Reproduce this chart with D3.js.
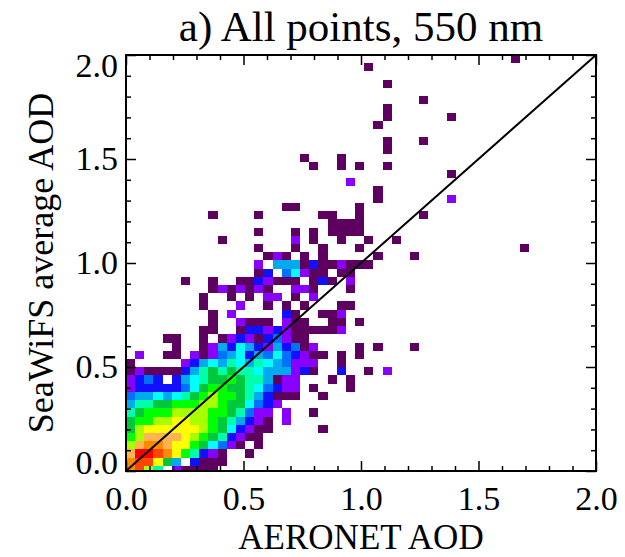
<!DOCTYPE html>
<html>
<head>
<meta charset="utf-8">
<script src="https://d3js.org/d3.v7.min.js"></script>
<style>
  body { margin: 0; background: #fff; }
  svg text { font-family: "Liberation Serif", Tinos, "DejaVu Serif", serif; fill: #000; }
</style>
</head>
<body>
<svg id="chart" width="625" height="557"></svg>
<script>
var title = "a) All points, 550 nm";
var xTitle = "AERONET AOD";
var yTitle = "SeaWiFS average AOD";
var majorTicks = [0, 0.5, 1.0, 1.5, 2.0];
var minorTicks = [0.1, 0.2, 0.3, 0.4, 0.6, 0.7, 0.8, 0.9, 1.1, 1.2, 1.3, 1.4, 1.6, 1.7, 1.8, 1.9];
var oneToOne = [0, 2];

// bin size (AOD) of the 2-D histogram
var binW = 0.039, binH = 0.0395;

// colour of each count level, 1 = few points ... f = most points
var levelColors = ["#5e0060", "#8a00ff", "#1010ff", "#0070ff", "#00aaee", "#00ffff", "#00ffaa",
                   "#00c83c", "#00ff00", "#a8ff00", "#ffff00", "#ffb450", "#ff8a00", "#ff4400", "#ff0000"];

// occupied bins: [row from the top (AOD 2.0), first column, levels of consecutive columns]
var bins = [
  [0, 42, "1"],
  [1, 26, "1"],
  [3, 28, "1"],
  [5, 32, "1"],
  [6, 28, "1"],
  [7, 28, "1......1"],
  [8, 27, "1"],
  [10, 28, "1...1"],
  [11, 28, "1"],
  [12, 19, "1...1"],
  [13, 20, "1..1.1..1"],
  [14, 35, "1"],
  [15, 24, "2"],
  [16, 27, "1"],
  [17, 27, "1.......2"],
  [18, 17, "11......1"],
  [19, 9, "1....1......11..1......1"],
  [20, 22, "1111"],
  [21, 14, "1...1.1.1111"],
  [22, 10, "1.......2.1..1..1..1"],
  [23, 14, "1...1..1...1"],
  [23, 43, "1"],
  [24, 15, "121.1.1.....1...1"],
  [25, 14, "2.55513112111"],
  [26, 14, "13.46211.11"],
  [27, 6, "1..1..1132111.131.2"],
  [28, 9, "1212121..221...1"],
  [29, 8, "1..1.1.22.1.2"],
  [30, 8, "1...2..1.1.1...11"],
  [31, 9, "1.2.....31..112"],
  [32, 9, "1..2111.211..11.1"],
  [33, 8, "11..133232111112"],
  [34, 4, "11..1.1232134211"],
  [35, 5, "1..1253653253412....1.1...1"],
  [36, 1, "2..11.212456354643211.1.1"],
  [37, 0, "1.....235657657654222..1"],
  [38, 0, "121111357878776555231..3..1.2"],
  [39, 0, "2343.35678898775122...1.1"],
  [40, 0, "2333334689988764322.1...1"],
  [41, 0, "455656789a998753111..1"],
  [42, 0, "57788999aa9886432"],
  [43, 0, "78999aaaa9987422.2..1"],
  [44, 0, "899aabbaa9875321.2"],
  [45, 0, "8abbbbbba9863211.....1"],
  [46, 0, "9accccba9873211"],
  [47, 0, "acddcbb986421.1"],
  [48, 0, "cffedb97321..1"],
  [49, 0, "deeb85.3111"],
  [50, 0, "dea7.21111"]
];

var margin = {left: 126, top: 55, right: 29, bottom: 86};
var width = 625 - margin.left - margin.right;
var height = 557 - margin.top - margin.bottom;

var svg = d3.select("#chart");
var g = svg.append("g").attr("transform", "translate(" + margin.left + "," + margin.top + ")");

var x = d3.scaleLinear().domain([0, 2]).range([0, width]);
var y = d3.scaleLinear().domain([0, 2]).range([height, 0]);

// unpack bins into cells
var cells = [];
bins.forEach(function (b) {
  for (var k = 0; k < b[2].length; k++) {
    var ch = b[2][k];
    if (ch === ".") continue;
    var col = b[1] + k;
    var x0 = col * binW, x1 = Math.min(2, (col + 1) * binW);
    var y1 = 2 - b[0] * binH, y0 = Math.max(0, 2 - (b[0] + 1) * binH);
    cells.push({x0: x0, x1: x1, y0: y0, y1: y1, level: parseInt(ch, 16)});
  }
});

g.append("g")
  .selectAll("rect")
  .data(cells)
  .enter()
  .append("rect")
  .attr("x", function (d) { return x(d.x0); })
  .attr("y", function (d) { return y(d.y1); })
  .attr("width", function (d) { return x(d.x1) - x(d.x0); })
  .attr("height", function (d) { return y(d.y0) - y(d.y1); })
  .attr("shape-rendering", "crispEdges")
  .style("fill", function (d) { return levelColors[d.level - 1]; });

// 1:1 line
g.append("path")
  .datum(oneToOne)
  .attr("d", d3.line().x(function (d) { return x(d); }).y(function (d) { return y(d); }))
  .style("fill", "none")
  .style("stroke", "#000")
  .style("stroke-width", 2);

// axes: ticks point inward on all four sides
function addAxis(axisFn, scale, transform, values, size, pad) {
  var a = axisFn(scale).tickValues(values).tickSizeInner(-size).tickSizeOuter(0);
  if (pad) a.tickFormat(d3.format(".1f")).tickPadding(pad);
  else a.tickFormat("");
  var s = g.append("g").attr("transform", transform).call(a);
  s.attr("font-family", null).attr("font-size", null);
  s.selectAll(".domain").remove();
  s.selectAll(".tick line").style("stroke", "#000").style("stroke-width", 1.5);
  return s;
}
var xb = addAxis(d3.axisBottom, x, "translate(0," + height + ")", majorTicks, 10, 15);
addAxis(d3.axisBottom, x, "translate(0," + height + ")", minorTicks, 5, 0);
addAxis(d3.axisTop, x, "translate(0,0)", majorTicks, 10, 0);
addAxis(d3.axisTop, x, "translate(0,0)", minorTicks, 5, 0);
var yl = addAxis(d3.axisLeft, y, "translate(0,0)", majorTicks, 10, 8);
addAxis(d3.axisLeft, y, "translate(0,0)", minorTicks, 5, 0);
addAxis(d3.axisRight, y, "translate(" + width + ",0)", majorTicks, 10, 0);
addAxis(d3.axisRight, y, "translate(" + width + ",0)", minorTicks, 5, 0);

xb.selectAll("text").style("font-size", "34px");
yl.selectAll("text").style("font-size", "34px")
  .attr("dy", function (d) { return d === 2 ? "0.62em" : d === 0 ? "0.08em" : "0.32em"; });

g.append("rect")
  .attr("width", width)
  .attr("height", height)
  .style("fill", "none")
  .style("stroke", "#000")
  .style("stroke-width", 2);

svg.append("text")
  .attr("x", margin.left + width / 2)
  .attr("y", 41)
  .attr("text-anchor", "middle")
  .style("font-size", "43px")
  .text(title);

svg.append("text")
  .attr("x", margin.left + width / 2)
  .attr("y", 549)
  .attr("text-anchor", "middle")
  .style("font-size", "35px")
  .text(xTitle);

svg.append("text")
  .attr("transform", "translate(53," + (margin.top + height / 2) + ") rotate(-90)")
  .attr("text-anchor", "middle")
  .style("font-size", "36px")
  .text(yTitle);
</script>
</body>
</html>
